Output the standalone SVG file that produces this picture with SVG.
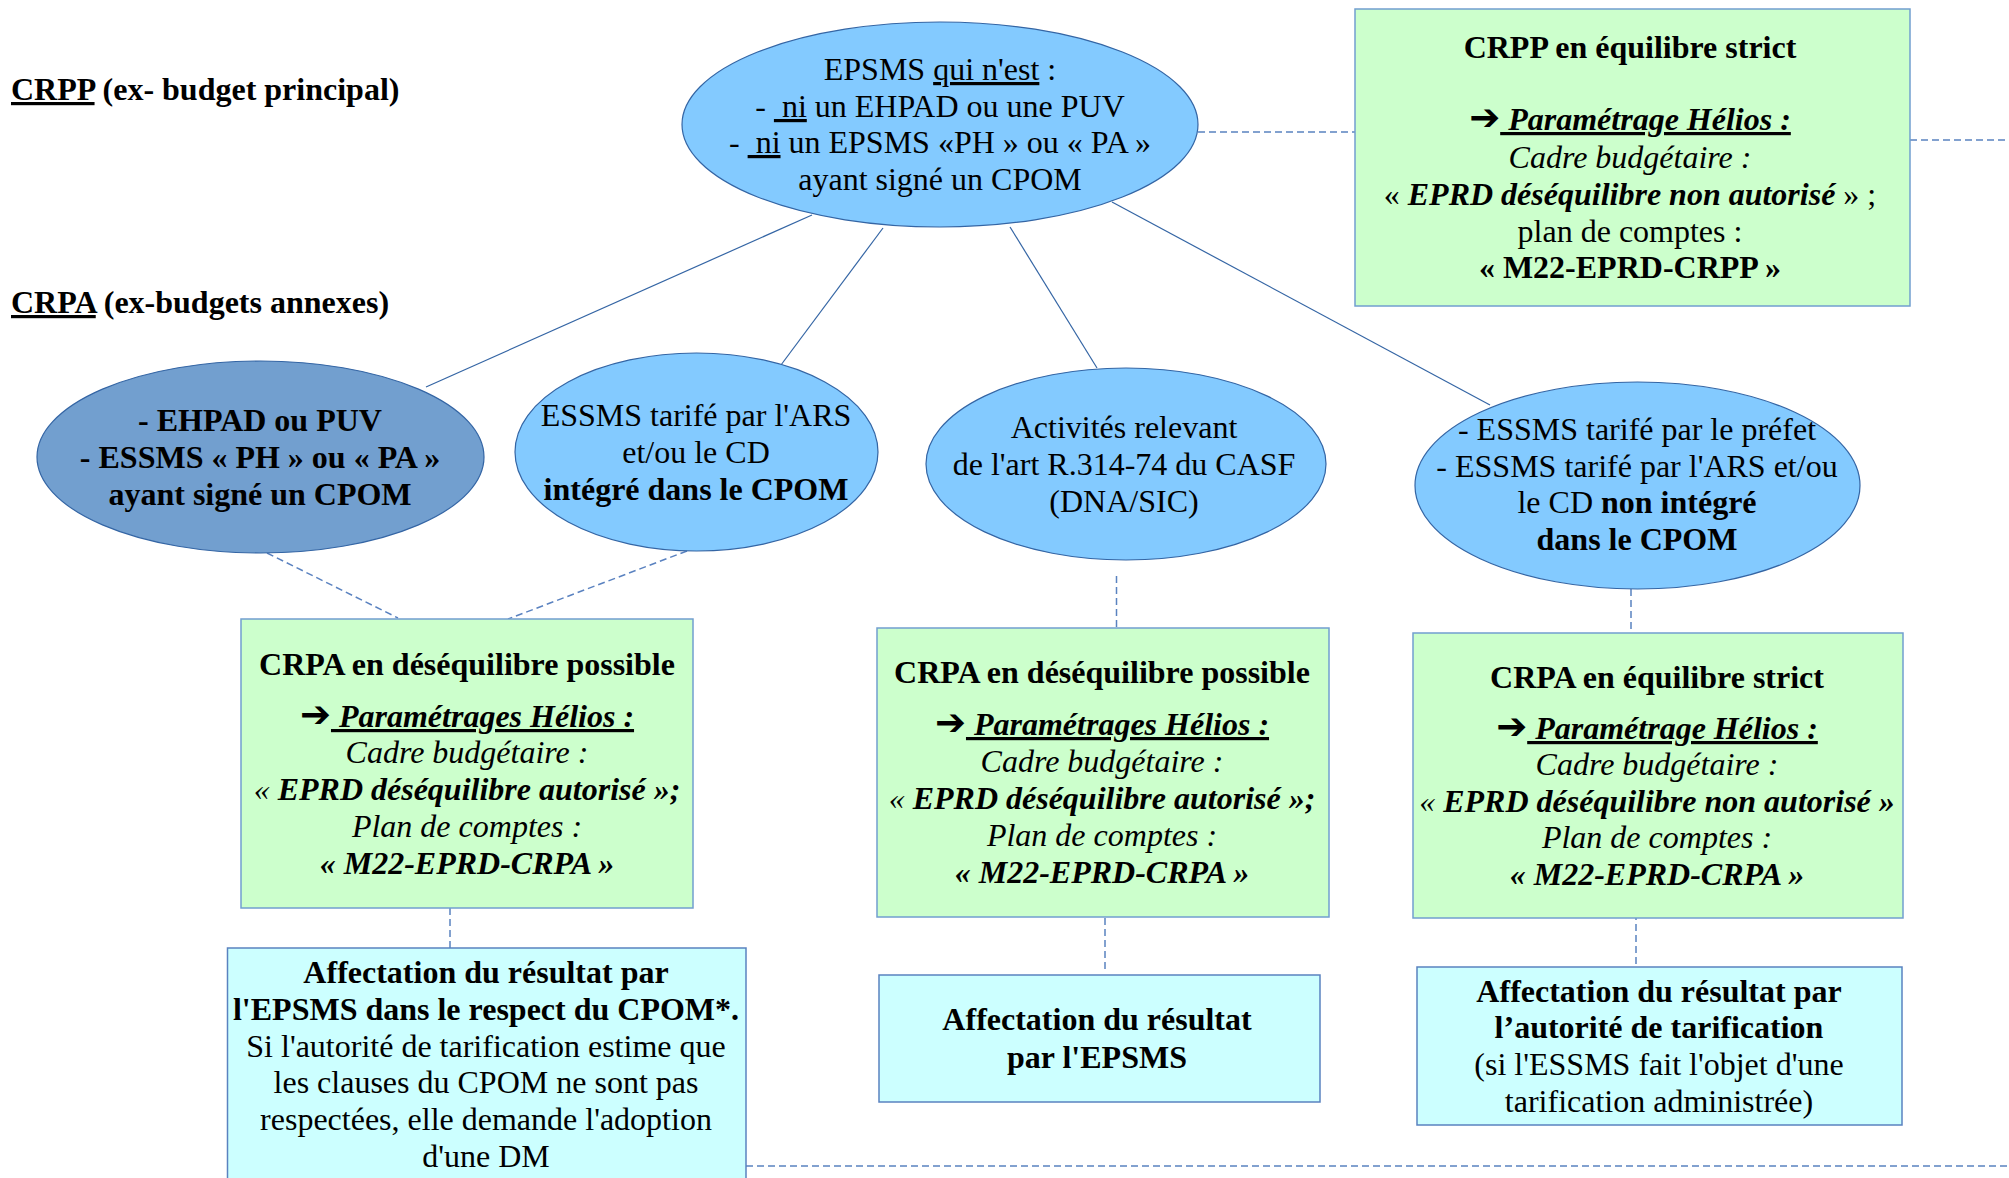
<svg xmlns="http://www.w3.org/2000/svg" width="2009" height="1178" viewBox="0 0 2009 1178">
<style>
text { font-family: "Liberation Serif", "Times New Roman", serif; font-size: 32px; fill: #000; }
.c { text-anchor: middle; }
.b { font-weight: bold; }
.i { font-style: italic; }
.u { text-decoration: underline; }
.arr { font-family: "DejaVu Sans", sans-serif; font-size: 37px; font-weight: bold; font-style: normal; text-decoration: none; }
.ell { fill: #83caff; stroke: #3465a4; stroke-width: 1.2; }
.ell-dark { fill: #729fcf; stroke: #3465a4; stroke-width: 1.2; }
.green { fill: #ccffcc; stroke: #729fcf; stroke-width: 1.5; }
.cyan { fill: #ccffff; stroke: #5a82c0; stroke-width: 1.5; }
.solid { stroke: #3465a4; stroke-width: 1.2; fill: none; }
.dash { stroke: #5a82c0; stroke-width: 1.5; stroke-dasharray: 7 4; fill: none; }
</style>
<rect width="2009" height="1178" fill="#ffffff"/>

<g id="labels">
  <text x="11" y="100" class="b"><tspan class="u">CRPP</tspan> (ex- budget principal)</text>
  <text x="11" y="313" class="b"><tspan class="u">CRPA</tspan> (ex-budgets annexes)</text>
</g>

<g id="connectors">
  <line class="solid" x1="812" y1="215" x2="426" y2="387"/>
  <line class="solid" x1="883" y1="228" x2="778" y2="369"/>
  <line class="solid" x1="1010" y1="227" x2="1097" y2="368"/>
  <line class="solid" x1="1112" y1="202" x2="1490" y2="405"/>
  <line class="dash" x1="1198" y1="132" x2="1355" y2="132"/>
  <line class="dash" x1="1910" y1="140" x2="2009" y2="140"/>
  <line class="dash" x1="267" y1="553" x2="398" y2="618"/>
  <line class="dash" x1="687" y1="551" x2="508" y2="619"/>
  <line class="dash" x1="1116.5" y1="576" x2="1116.5" y2="628"/>
  <line class="dash" x1="1631" y1="589" x2="1631" y2="633"/>
  <line class="dash" x1="450" y1="908" x2="450" y2="957"/>
  <line class="dash" x1="1105" y1="918" x2="1105" y2="970"/>
  <line class="dash" x1="1636" y1="913" x2="1636" y2="967"/>
  <line class="dash" x1="746" y1="1166" x2="2009" y2="1166"/>
</g>

<g id="node-epsms">
  <ellipse class="ell" cx="940" cy="124.5" rx="258" ry="102.5"/>
  <text class="c" x="940" y="80">EPSMS <tspan class="u">qui n'est</tspan> :</text>
  <text class="c" x="940" y="117">-&#160;<tspan class="u">&#160;ni</tspan> un EHPAD ou une PUV</text>
  <text class="c" x="940" y="153">-&#160;<tspan class="u">&#160;ni</tspan> un EPSMS «PH » ou « PA »</text>
  <text class="c" x="940" y="190">ayant signé un CPOM</text>
</g>

<g id="node-crpp">
  <rect class="green" x="1355" y="9" width="555" height="297"/>
  <text class="c b" x="1630" y="58">CRPP en équilibre strict</text>
  <text class="c" x="1630" y="130"><tspan class="arr">➔</tspan><tspan class="b i u">&#160;Paramétrage Hélios :</tspan></text>
  <text class="c i" x="1630" y="168">Cadre budgétaire :</text>
  <text class="c" x="1630" y="205">« <tspan class="b i">EPRD déséquilibre non autorisé</tspan> » ;</text>
  <text class="c" x="1630" y="242">plan de comptes :</text>
  <text class="c b" x="1630" y="278">« M22-EPRD-CRPP »</text>
</g>

<g id="node-ehpad">
  <ellipse class="ell-dark" cx="260.5" cy="457" rx="223.5" ry="96"/>
  <text class="c b" x="260" y="431">- EHPAD ou PUV</text>
  <text class="c b" x="260" y="468">- ESSMS « PH » ou « PA »</text>
  <text class="c b" x="260" y="505">ayant signé un CPOM</text>
</g>

<g id="node-ars">
  <ellipse class="ell" cx="696.5" cy="452" rx="181.5" ry="99"/>
  <text class="c" x="696" y="426">ESSMS tarifé par l'ARS</text>
  <text class="c" x="696" y="463">et/ou le CD</text>
  <text class="c b" x="696" y="500">intégré dans le CPOM</text>
</g>

<g id="node-activites">
  <ellipse class="ell" cx="1126" cy="464" rx="200" ry="96"/>
  <text class="c" x="1124" y="438">Activités relevant</text>
  <text class="c" x="1124" y="475">de l'art R.314-74 du CASF</text>
  <text class="c" x="1124" y="512">(DNA/SIC)</text>
</g>

<g id="node-prefet">
  <ellipse class="ell" cx="1637.5" cy="485.5" rx="222.5" ry="103.5"/>
  <text class="c" x="1637" y="440">- ESSMS tarifé par le préfet</text>
  <text class="c" x="1637" y="477">- ESSMS tarifé par l'ARS et/ou</text>
  <text class="c" x="1637" y="513">le CD <tspan class="b">non intégré</tspan></text>
  <text class="c b" x="1637" y="550">dans le CPOM</text>
</g>

<g id="node-crpa-1">
  <rect class="green" x="241" y="619" width="452" height="289"/>
  <text class="c b" x="467" y="675">CRPA en déséquilibre possible</text>
  <text class="c" x="467" y="727"><tspan class="arr">➔</tspan><tspan class="b i u">&#160;Paramétrages Hélios :</tspan></text>
  <text class="c i" x="467" y="763">Cadre budgétaire :</text>
  <text class="c i" x="467" y="800">« <tspan class="b">EPRD déséquilibre autorisé »;</tspan></text>
  <text class="c i" x="467" y="837">Plan de comptes :</text>
  <text class="c b i" x="467" y="874">« M22-EPRD-CRPA »</text>
</g>

<g id="node-crpa-2">
  <rect class="green" x="877" y="628" width="452" height="289"/>
  <text class="c b" x="1102" y="683">CRPA en déséquilibre possible</text>
  <text class="c" x="1102" y="735"><tspan class="arr">➔</tspan><tspan class="b i u">&#160;Paramétrages Hélios :</tspan></text>
  <text class="c i" x="1102" y="772">Cadre budgétaire :</text>
  <text class="c i" x="1102" y="809">« <tspan class="b">EPRD déséquilibre autorisé »;</tspan></text>
  <text class="c i" x="1102" y="846">Plan de comptes :</text>
  <text class="c b i" x="1102" y="883">« M22-EPRD-CRPA »</text>
</g>

<g id="node-crpa-3">
  <rect class="green" x="1413" y="633" width="490" height="285"/>
  <text class="c b" x="1657" y="688">CRPA en équilibre strict</text>
  <text class="c" x="1657" y="739"><tspan class="arr">➔</tspan><tspan class="b i u">&#160;Paramétrage Hélios :</tspan></text>
  <text class="c i" x="1657" y="775">Cadre budgétaire :</text>
  <text class="c i" x="1657" y="812">« <tspan class="b">EPRD déséquilibre non autorisé »</tspan></text>
  <text class="c i" x="1657" y="848">Plan de comptes :</text>
  <text class="c b i" x="1657" y="885">« M22-EPRD-CRPA »</text>
</g>

<g id="node-affectation-1">
  <rect class="cyan" x="227.5" y="948" width="518.5" height="240"/>
  <text class="c b" x="486" y="983">Affectation du résultat par</text>
  <text class="c b" x="486" y="1020">l'EPSMS dans le respect du CPOM*.</text>
  <text class="c" x="486" y="1057">Si l'autorité de tarification estime que</text>
  <text class="c" x="486" y="1093">les clauses du CPOM ne sont pas</text>
  <text class="c" x="486" y="1130">respectées, elle demande l'adoption</text>
  <text class="c" x="486" y="1167">d'une DM</text>
</g>

<g id="node-affectation-2">
  <rect class="cyan" x="879" y="975" width="441" height="127"/>
  <text class="c b" x="1097" y="1030">Affectation du résultat</text>
  <text class="c b" x="1097" y="1068">par l'EPSMS</text>
</g>

<g id="node-affectation-3">
  <rect class="cyan" x="1417" y="967" width="485" height="158"/>
  <text class="c b" x="1659" y="1002">Affectation du résultat par</text>
  <text class="c b" x="1659" y="1038">l’autorité de tarification</text>
  <text class="c" x="1659" y="1075">(si l'ESSMS fait l'objet d'une</text>
  <text class="c" x="1659" y="1112">tarification administrée)</text>
</g>
</svg>
